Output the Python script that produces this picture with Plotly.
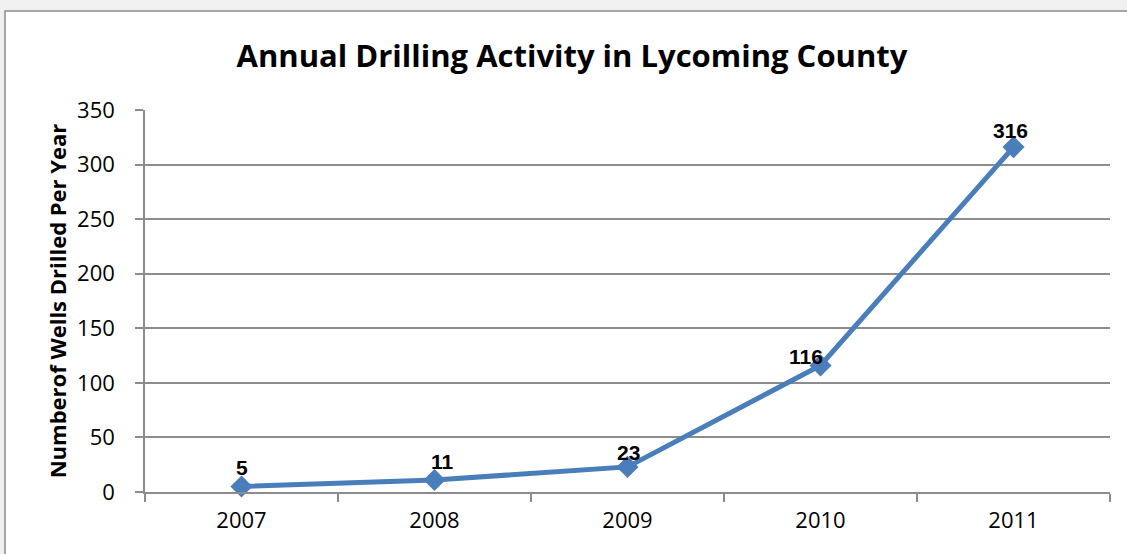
import plotly.graph_objects as go

years = ["2007", "2008", "2009", "2010", "2011"]
wells = [5, 11, 23, 116, 316]
y_ticks = [0, 50, 100, 150, 200, 250, 300, 350]

# label offsets in pixels (style only)
label_dx = [0, 8, 1, -15, -3]
label_dy = [19, 18.5, 14, 9, 17]

W, H = 1127, 554
L, R, T, B = 145, 17, 110, 62
pw, ph = W - L - R, H - T - B

def px_x(p):
    return (p - L) / pw

def px_y(p):
    return (H - B - p) / ph

fig = go.Figure()
fig.add_trace(go.Scatter(
    x=years, y=wells, mode="lines+markers",
    line=dict(color="#4A7EBB", width=5),
    marker=dict(symbol="diamond", size=17, color="#4A7EBB"),
    cliponaxis=False, showlegend=False, hoverinfo="x+y",
))

# category axis: annotation x given as category index
for i, (v, dx, dy) in enumerate(zip(wells, label_dx, label_dy)):
    fig.add_annotation(x=i, y=v, text=f"<b>{v}</b>", showarrow=False,
                       xanchor="center", yanchor="middle", xshift=dx, yshift=dy,
                       font=dict(family="Liberation Sans, Arial", size=21, color="black"))

shapes = [
    dict(type="rect", xref="paper", yref="paper", x0=px_x(-5), x1=px_x(W + 5), y0=px_y(H + 5), y1=px_y(-5),
         fillcolor="#f0f0f0", line=dict(width=0), layer="below"),
    dict(type="rect", xref="paper", yref="paper", x0=px_x(5), x1=px_x(W + 20), y0=px_y(H + 20), y1=px_y(11),
         fillcolor="white", line=dict(color="#8c8c8c", width=1.5), layer="below"),
]

tick_font = dict(family="Open Sans, Arial", size=22, color="black")

fig.update_layout(
    width=W, height=H,
    margin=dict(l=L, r=R, t=T, b=B),
    paper_bgcolor="white", plot_bgcolor="white",
    shapes=shapes,
    title=dict(text="<b>Annual Drilling Activity in Lycoming County</b>", x=572 / W, xanchor="center",
               y=1 - 56 / H, yanchor="middle",
               font=dict(family="Open Sans, Arial", size=31, color="black")),
    xaxis=dict(type="category", range=[-0.5, 4.5], showgrid=False,
               showline=True, linecolor="#8c8c8c", linewidth=1.5,
               ticks="outside", tickson="boundaries", ticklen=8, tickcolor="#8c8c8c", tickwidth=1.5,
               ticklabelstandoff=8, tickfont=tick_font),
    yaxis=dict(range=[0, 350], tickvals=y_ticks, showgrid=True, gridcolor="#8c8c8c", gridwidth=1.5,
               showline=True, linecolor="#8c8c8c", linewidth=1.5, zeroline=False,
               ticks="outside", ticklen=8, tickcolor="#8c8c8c", tickwidth=1.5,
               ticklabelstandoff=16, tickfont=tick_font,
               title=dict(text="<b>Numberof Wells Drilled Per Year</b>", standoff=4,
                          font=dict(family="Open Sans, Arial", size=22, color="black"))),
)

fig.write_html("out.html", config={"displayModeBar": False},
               post_script="document.body.style.margin='0';")
